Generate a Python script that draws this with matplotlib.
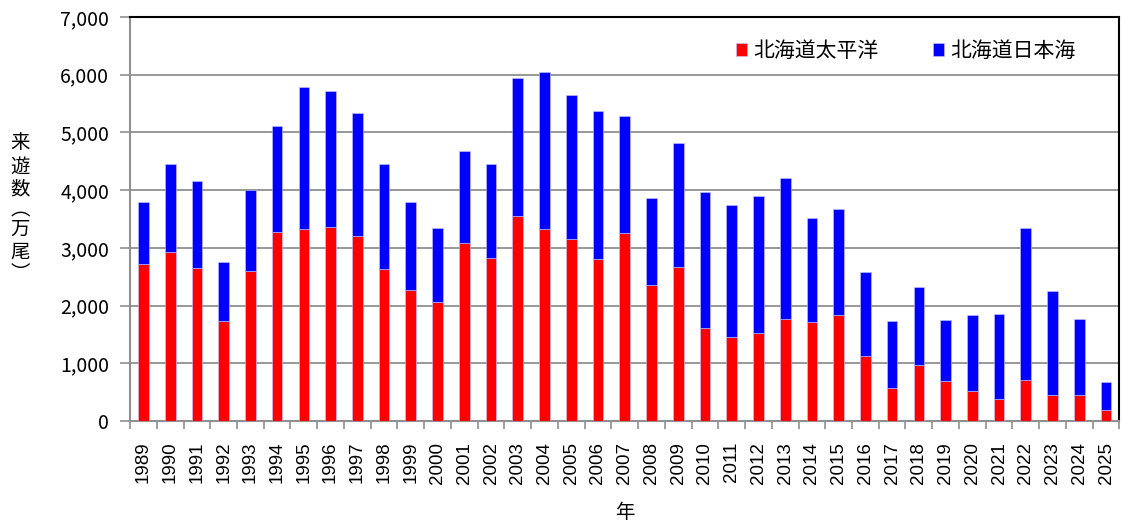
import numpy as np
import matplotlib.pyplot as plt
from matplotlib.ticker import FuncFormatter, FixedLocator

plt.rcParams['font.family'] = ['Noto Sans CJK JP', 'DejaVu Sans']

years = list(range(1989, 2026))
# 北海道太平洋 (万尾)
pacific = [2720, 2920, 2650, 1730, 2600, 3270, 3330, 3370, 3210, 2640,
           2265, 2070, 3080, 2830, 3560, 3320, 3150, 2810, 3250, 2360,
           2660, 1610, 1450, 1525, 1770, 1710, 1830, 1130, 580, 975,
           700, 515, 390, 710, 455, 450, 190]
# 合計 (太平洋 + 日本海)
total = [3790, 4450, 4150, 2760, 4000, 5120, 5780, 5720, 5340, 4460,
         3800, 3350, 4680, 4460, 5940, 6050, 5640, 5370, 5290, 3860,
         4810, 3970, 3750, 3900, 4210, 3510, 3680, 2580, 1730, 2320,
         1755, 1830, 1860, 3345, 2250, 1770, 680]
japan_sea = [t - p for t, p in zip(total, pacific)]

fig = plt.figure(figsize=(11.23, 5.23), dpi=100)
ax = fig.add_axes([0.1158, 0.195, 0.881, 0.7725])

x = np.arange(len(years))
w = 0.4
ax.bar(x, pacific, w, color='#ff0000', edgecolor='#c8c8ff', linewidth=0.4,
       label='北海道太平洋', zorder=3)
ax.bar(x, japan_sea, w, bottom=pacific, color='#0000ff', edgecolor='#c8c8ff',
       linewidth=0.4, label='北海道日本海', zorder=3)

ax.set_xlim(-0.5, len(years) - 0.5)
ax.set_ylim(0, 7000)
ax.set_yticks(np.arange(0, 7001, 1000))
ax.yaxis.set_major_formatter(FuncFormatter(lambda v, p: f'{int(v):,}'))
ax.grid(axis='y', color='#909090', linewidth=1.3, zorder=0)

# ticks between categories, labels at centres
ax.xaxis.set_major_locator(FixedLocator(np.arange(-0.5, len(years), 1.0)))
ax.xaxis.set_minor_locator(FixedLocator(x))
ax.set_xticklabels([])
ax.set_xticklabels([str(y) for y in years], minor=True, rotation=90,
                   fontsize=13.5, family=['Liberation Sans', 'DejaVu Sans'])
ax.tick_params(axis='x', which='major', length=6, color='#909090', width=1.2)
ax.tick_params(axis='x', which='minor', length=0, pad=15)
ax.tick_params(axis='y', length=7, color='#909090', width=1.2, labelsize=14, pad=8)

for s in ['left', 'bottom']:
    ax.spines[s].set_color('#909090')
    ax.spines[s].set_linewidth(1.5)
for s in ['top', 'right']:
    ax.spines[s].set_color('black')
    ax.spines[s].set_linewidth(1.5)

ax.set_xlabel('年', fontsize=14, labelpad=13)

# vertical y label, one character per line
ylab = ['来', '遊', '数', '︵', '万', '尾', '︶']
ypix = [143, 167, 189, 210, 229, 252, 273]
for ch, yp in zip(ylab, ypix):
    fig.text(20 / 1123, 1 - yp / 523, ch, fontsize=14, ha='center', va='center')

ax.legend(loc='upper right', bbox_to_anchor=(0.975, 0.99), ncol=2, frameon=False,
          fontsize=15, handlelength=0.55, handleheight=0.55, handletextpad=0.3,
          columnspacing=2.6)

fig.savefig('out.png', dpi=100)
